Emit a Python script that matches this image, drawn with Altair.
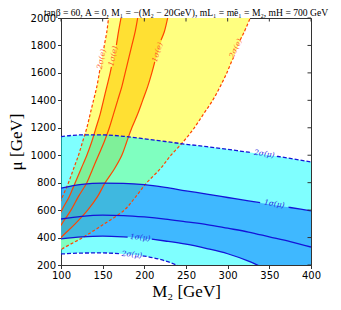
import altair as alt
import pandas as pd

# ---------------- data ----------------
# e-constraint curves: M2 [GeV] as a function of mu [GeV]
MU_GRID = [200, 300, 400, 500, 600, 700, 800, 900, 1000, 1100, 1200, 1300,
           1400, 1500, 1600, 1700, 1800, 1900, 2000]
E_2S_L = [62, 72, 80, 88, 95, 102, 109, 115, 121, 126, 131, 135, 139, 143, 146, 149, 152, 155, 157]
E_1S_L = [67, 76, 85, 93, 101, 110, 117, 124, 131, 137, 142, 147, 151, 155, 159, 163, 166, 169, 172]
E_CEN = [70, 80, 90, 101, 112, 121, 131, 138, 145, 152, 158, 163, 168, 173, 177, 181, 185, 189, 192]
E_1S_R = [74, 86, 100, 117, 132, 144, 153, 164, 173, 179, 185, 192, 198, 204, 209, 214, 219, 224, 228]
E_2S_R = [78, 97, 126, 152, 176, 190, 203, 219, 232, 247, 260, 271, 282, 291, 299, 306, 313, 320, 327]

# mu-constraint curves: mu [GeV] as a function of M2 [GeV]
M2_GRID = [100, 125, 150, 175, 200, 225, 250, 275, 300, 325, 350, 375, 400]
MU_2S_UP = [1135, 1148, 1148, 1138, 1120, 1100, 1080, 1062, 1043, 1022, 1000, 977, 951]
MU_1S_UP = [760, 788, 797, 795, 785, 765, 740, 717, 692, 667, 643, 619, 594]
MU_CEN = [535, 555, 563, 560, 550, 535, 515, 495, 468, 440, 405, 370, 331]
MU_1S_LO = [390, 405, 411, 405, 392, 375, 352, 320, 282, 228, 160, 100, 40]
MU_2S_LO = [280, 287, 288, 280, 265, 230, 170, 100, 20, -60, -140, -220, -300]

# inline contour labels: text, M2, mu, angle, gap start (M2, mu), gap end (M2, mu), curve
E_LABELS = [
    ("2σ(e)", 149, 1700, 281, (146.6, 1621), (151.5, 1781), "2sL"),
    ("1σ(e)", 163, 1722, 282, (160.5, 1643), (166.5, 1803), "1sL"),
    ("1σ(e)", 216, 1750, 287, (212.5, 1680), (220.0, 1840), "1sR"),
    ("2σ(e)", 310, 1778, 295, (307.0, 1709), (315.0, 1840), "2sR"),
]
MU_LABELS = [
    ("2σ(μ)", 344, 1008, 8, (329, 1019), (359, 992), "2sU"),
    ("1σ(μ)", 356, 643, 9, (339, 654), (373, 621), "1sU"),
    ("1σ(μ)", 195, 398, 5, (180, 403), (209, 388), "1sD"),
    ("2σ(μ)", 185, 274, 5, (171, 282), (198, 267), "2sD"),
]

X_TICKS = [100, 150, 200, 250, 300, 350, 400]
Y_TICKS = [200, 400, 600, 800, 1000, 1200, 1400, 1600, 1800, 2000]

TITLE = "tanβ = 60,  A = 0,  M₁ = −(M₂ − 20GeV),  mL̃₁ = mẽ₁ = M₂,  mH = 700 GeV"

# ---------------- build tables ----------------
xs = alt.Scale(domain=[100, 400], nice=False, zero=False)
ys = alt.Scale(domain=[200, 2000], nice=False, zero=False)
XAX = alt.Axis(values=X_TICKS, format="d", labelFlush=False, titlePadding=3, title="M₂ [GeV]")
YAX = alt.Axis(values=Y_TICKS, format="d", labelFlush=False, titlePadding=5, title="μ [GeV]")

df_e = pd.DataFrame({"mu": MU_GRID, "L2": E_2S_L, "L1": E_1S_L, "C": E_CEN,
                     "R1": E_1S_R, "R2": E_2S_R})
df_m = pd.DataFrame({"M2": M2_GRID, "U2": MU_2S_UP, "U1": MU_1S_UP, "C": MU_CEN,
                     "D1": MU_1S_LO, "D2": MU_2S_LO})

e_curves = {"2sL": E_2S_L, "1sL": E_1S_L, "cen": E_CEN, "1sR": E_1S_R, "2sR": E_2S_R}
e_dashed = {"2sL": 1, "1sL": 0, "cen": 0, "1sR": 0, "2sR": 1}
e_gap = {lab[6]: lab for lab in E_LABELS}

rows = []
for name, vals in e_curves.items():
    if name in e_gap:
        g0, g1 = e_gap[name][4], e_gap[name][5]
        for mu, m2 in zip(MU_GRID, vals):
            if mu < g0[1]:
                rows.append((name, name + "a", mu, m2))
            elif mu > g1[1]:
                rows.append((name, name + "b", mu, m2))
        rows.append((name, name + "a", g0[1], g0[0]))
        rows.append((name, name + "b", g1[1], g1[0]))
    else:
        for mu, m2 in zip(MU_GRID, vals):
            rows.append((name, name, mu, m2))
df_el = pd.DataFrame(rows, columns=["curve", "key", "mu", "M2"])
df_el["dashed"] = df_el["curve"].map(e_dashed)
df_el = df_el.sort_values(["key", "mu"]).reset_index(drop=True)

m_curves = {"2sU": MU_2S_UP, "1sU": MU_1S_UP, "cen": MU_CEN, "1sD": MU_1S_LO, "2sD": MU_2S_LO}
m_dashed = {"2sU": 1, "1sU": 0, "cen": 0, "1sD": 0, "2sD": 1}
m_gap = {lab[6]: lab for lab in MU_LABELS}
rows = []
for name, vals in m_curves.items():
    if name in m_gap:
        g0, g1 = m_gap[name][4], m_gap[name][5]
        for m2, mu in zip(M2_GRID, vals):
            if m2 < g0[0]:
                rows.append((name, name + "a", m2, mu))
            elif m2 > g1[0]:
                rows.append((name, name + "b", m2, mu))
        rows.append((name, name + "a", g0[0], g0[1]))
        rows.append((name, name + "b", g1[0], g1[1]))
    else:
        for m2, mu in zip(M2_GRID, vals):
            rows.append((name, name, m2, mu))
df_ml = pd.DataFrame(rows, columns=["curve", "key", "M2", "mu"])
df_ml["dashed"] = df_ml["curve"].map(m_dashed)
df_ml = df_ml.sort_values(["key", "M2"]).reset_index(drop=True)

df_elab = pd.DataFrame([(t, x, y, a) for t, x, y, a, *_ in E_LABELS],
                       columns=["text", "M2", "mu", "angle"])
df_mlab = pd.DataFrame([(t, x, y, a) for t, x, y, a, *_ in MU_LABELS],
                       columns=["text", "M2", "mu", "angle"])

# ---------------- layers ----------------
E_COLOR = "#ff4500"
M_COLOR = "#1414d8"


def X(field):
    return alt.X(field, scale=xs, axis=XAX)


def Y(field):
    return alt.Y(field, scale=ys, axis=YAX)


yellow = alt.Chart(df_e).mark_area(orient="horizontal", interpolate="catmull-rom",
                                   clip=True, color="#ffff80").encode(
    y=Y("mu:Q"), x=X("L2:Q"), x2="R2:Q")
gold = alt.Chart(df_e).mark_area(orient="horizontal", interpolate="catmull-rom",
                                 clip=True, color="#ffe033").encode(
    y=Y("mu:Q"), x=X("L1:Q"), x2="R1:Q")
cyan = alt.Chart(df_m).mark_area(interpolate="monotone", clip=True, color="#00ffff",
                                 opacity=0.5).encode(
    x=X("M2:Q"), y=Y("D2:Q"), y2="U2:Q")
blue = alt.Chart(df_m).mark_area(interpolate="monotone", clip=True, color="#0071ff",
                                 opacity=0.5).encode(
    x=X("M2:Q"), y=Y("D1:Q"), y2="U1:Q")


def e_lines(dashed):
    kw = dict(clip=True, interpolate="catmull-rom", color=E_COLOR, strokeWidth=1.2)
    if dashed:
        kw["strokeDash"] = [3, 2]
    return alt.Chart(df_el[df_el["dashed"] == dashed]).mark_line(**kw).encode(
        x=X("M2:Q"), y=Y("mu:Q"), detail="key:N", order="mu:Q")


def m_lines(dashed):
    kw = dict(clip=True, interpolate="monotone", color=M_COLOR, strokeWidth=1.3)
    if dashed:
        kw["strokeDash"] = [4, 2]
    return alt.Chart(df_ml[df_ml["dashed"] == dashed]).mark_line(**kw).encode(
        x=X("M2:Q"), y=Y("mu:Q"), detail="key:N", order="M2:Q")


def labels(df, color):
    return alt.Chart(df).mark_text(font="DejaVu Serif", fontStyle="italic", fontSize=7.5,
                                   color=color, align="center", baseline="middle").encode(
        x=X("M2:Q"), y=Y("mu:Q"),
        text="text:N", angle=alt.Angle("angle:Q", scale=None))


top_ticks = alt.Chart(pd.DataFrame({"t": X_TICKS})).mark_rule(color="#333", strokeWidth=1).encode(
    x=X("t:Q"), y=alt.value(0), y2=alt.value(3.5))
right_ticks = alt.Chart(pd.DataFrame({"t": Y_TICKS})).mark_rule(color="#333", strokeWidth=1).encode(
    y=Y("t:Q"), x=alt.value(250), x2=alt.value(246.5))

chart = alt.layer(
    yellow, gold, cyan, blue,
    e_lines(0), e_lines(1), m_lines(0), m_lines(1),
    top_ticks, right_ticks,
    labels(df_elab, "#ff5a2a"), labels(df_mlab, "#2a2ae0"),
).properties(
    width=250, height=247,
    autosize=alt.AutoSizeParams(type="none"),
    padding={"left": 53, "top": 10, "right": 22, "bottom": 37},
    title=alt.TitleParams(TITLE, font="Liberation Serif", fontSize=9.6, fontWeight="normal",
                          color="black", anchor="middle", offset=1, dy=5.5),
).configure_view(
    stroke="#333", strokeWidth=1
).configure_axis(
    grid=False, domainColor="#333", tickColor="#333", tickSize=3.5, labelPadding=2,
    labelFont="DejaVu Sans", labelFontSize=10, labelColor="black",
    titleFont="Liberation Serif", titleFontSize=17, titleFontWeight="normal", titleColor="black",
)

chart.save("out.html", embed_options={"renderer": "svg", "actions": False})
